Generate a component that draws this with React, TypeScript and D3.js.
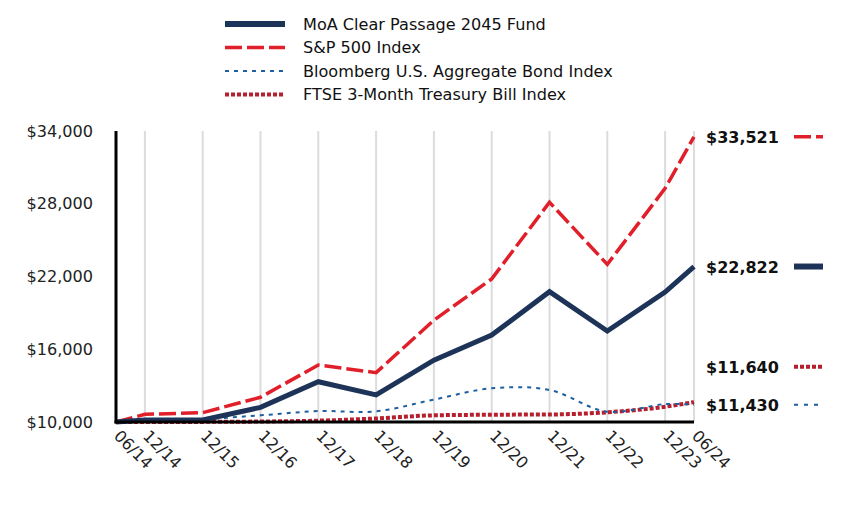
import * as d3 from 'd3';

const periods = ['06/14', '12/14', '12/15', '12/16', '12/17', '12/18', '12/19', '12/20', '12/21', '12/22', '12/23', '06/24'];
const periodTimes = [2014.5, 2015, 2016, 2017, 2018, 2019, 2020, 2021, 2022, 2023, 2024, 2024.5];

const fundValues = [10000, 10160, 10160, 11210, 13320, 12230, 15100, 17170, 20750, 17500, 20720, 22822];
const spValues = [10000, 10630, 10770, 12040, 14700, 14070, 18400, 21800, 28120, 23000, 29270, 33521];
const bondValues = [10000, 10200, 10250, 10550, 10900, 10880, 11850, 12780, 12640, 10850, 11480, 11430];
const tbillValues = [10000, 10000, 10010, 10040, 10110, 10290, 10550, 10600, 10620, 10800, 11260, 11640];

const yTicks = [10000, 16000, 22000, 28000, 34000];

type Series = {
  label: string;
  values: number[];
  color: string;
  width: number;
  dash: string | null;
  curve: d3.CurveFactory;
  endDash: string | null;
};

const series: Series[] = [
  { label: 'MoA Clear Passage 2045 Fund', values: fundValues, color: '#1d3458', width: 5, dash: null, curve: d3.curveLinear, endDash: null },
  { label: 'S&P 500 Index', values: spValues, color: '#e11f2b', width: 3.5, dash: '17,5', curve: d3.curveLinear, endDash: '17,5' },
  { label: 'Bloomberg U.S. Aggregate Bond Index', values: bondValues, color: '#1e5fa0', width: 2, dash: '4,5', curve: d3.curveCatmullRom, endDash: '4,6' },
  { label: 'FTSE 3-Month Treasury Bill Index', values: tbillValues, color: '#b51f2e', width: 4, dash: '4,2', curve: d3.curveMonotoneX, endDash: '4,2' },
];

const W = 864;
const H = 516;
const fontFamily = '"DejaVu Sans", Verdana, sans-serif';

export default function App() {
  const x = d3.scaleLinear().domain([2014.5, 2024.5]).range([116, 694]);
  const y = d3.scaleLinear().domain([10000, 34000]).range([422, 131]);

  const fmt = (v: number) => '$' + d3.format(',')(v);

  // end labels, nudged apart where they collide
  const ends = series
    .map((s) => ({ s, v: s.values[s.values.length - 1], py: y(s.values[s.values.length - 1]) }))
    .sort((a, b) => a.v - b.v);
  for (let i = 1; i < ends.length; i++) {
    if (ends[i - 1].py - ends[i].py < 38) ends[i].py = ends[i - 1].py - 38;
  }

  return (
    <svg width={W} height={H} style={{ position: 'absolute', left: 0, top: 0, background: '#fff' }} fontFamily={fontFamily}>
      {/* legend */}
      {series.map((s, i) => (
        <g key={s.label} transform={`translate(225,${24 + i * 23.5})`}>
          <line x1={0} x2={60} y1={0} y2={0} stroke={s.color} strokeWidth={i === 0 ? 6 : s.width} strokeDasharray={s.dash ?? undefined} />
          <text x={78} y={5.5} fontSize={16.1} fill="#111">{s.label}</text>
        </g>
      ))}

      {/* vertical grid */}
      {periodTimes.map((t, i) => (
        <line key={i} x1={x(t)} x2={x(t)} y1={131} y2={422} stroke="#dcdcdc" strokeWidth={2} />
      ))}

      {/* y tick labels */}
      {yTicks.map((v) => (
        <text key={v} x={93} y={y(v) + 5.5} textAnchor="end" fontSize={16.1} fill="#222">{fmt(v)}</text>
      ))}

      {/* x tick labels */}
      {periods.map((p, i) => (
        <text key={p} transform={`translate(${x(periodTimes[i]) - 3},${437}) rotate(45)`} fontSize={16.1} fill="#222">{p}</text>
      ))}

      {/* lines, drawn bottom to top */}
      {[...series].reverse().map((s) => {
        const line = d3
          .line<number>()
          .x((_, i) => x(periodTimes[i]))
          .y((d) => y(d))
          .curve(s.curve);
        return (
          <path key={s.label} d={line(s.values) ?? ''} fill="none" stroke={s.color} strokeWidth={s.width} strokeDasharray={s.dash ?? undefined} />
        );
      })}

      {/* axes */}
      <line x1={116} x2={116} y1={131} y2={423.5} stroke="#000" strokeWidth={3} />
      <line x1={114.5} x2={694} y1={422} y2={422} stroke="#000" strokeWidth={3} />

      {/* end labels */}
      {ends.map(({ s, v, py }) => (
        <g key={s.label}>
          <text x={706} y={py + 6} fontSize={16} fontWeight="bold" fill="#111">{fmt(v)}</text>
          <line x1={794} x2={823} y1={py} y2={py} stroke={s.color} strokeWidth={s === series[0] ? 6 : s.width} strokeDasharray={s.endDash ?? undefined} />
        </g>
      ))}
    </svg>
  );
}
